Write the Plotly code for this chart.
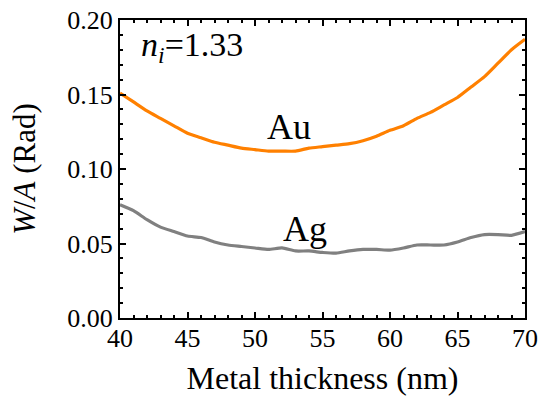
import plotly.graph_objects as go

thickness = list(range(40, 71))
au_wa = [0.151, 0.145, 0.139, 0.134, 0.129, 0.124, 0.121, 0.118, 0.116, 0.114,
         0.113, 0.112, 0.112, 0.112, 0.114, 0.115, 0.116, 0.117, 0.119, 0.122,
         0.126, 0.129, 0.134, 0.138, 0.143, 0.148, 0.155, 0.162, 0.171, 0.180, 0.187]
ag_wa = [0.076, 0.072, 0.066, 0.061, 0.058, 0.055, 0.054, 0.051, 0.049, 0.048,
         0.047, 0.046, 0.047, 0.045, 0.045, 0.044, 0.0435, 0.045, 0.046, 0.046,
         0.0455, 0.047, 0.049, 0.049, 0.049, 0.051, 0.054, 0.056, 0.056, 0.0555, 0.058]

FONT = "Liberation Serif"

fig = go.Figure()
fig.add_trace(go.Scatter(x=thickness, y=au_wa, mode="lines",
                         line=dict(color="#ff8000", width=3.2, shape="spline", smoothing=0.6),
                         showlegend=False))
fig.add_trace(go.Scatter(x=thickness, y=ag_wa, mode="lines",
                         line=dict(color="#808080", width=3.2, shape="spline", smoothing=0.6),
                         showlegend=False))

fig.add_annotation(x=52.5, y=0.128, text="Au", showarrow=False, xref="x", yref="y",
                   font=dict(family=FONT, size=36, color="black"))
fig.add_annotation(x=53.7, y=0.060, text="Ag", showarrow=False, xref="x", yref="y",
                   font=dict(family=FONT, size=36, color="black"))
fig.add_annotation(x=45.3, y=0.182, text="<i>n</i><sub><i>i</i></sub>=1.33", showarrow=False,
                   xref="x", yref="y", font=dict(family=FONT, size=34, color="black"))

axis_common = dict(showgrid=False, zeroline=False, showline=True, linecolor="black",
                   linewidth=2, mirror="ticks", ticks="inside", ticklen=6, tickwidth=2,
                   tickcolor="black", automargin=False, ticklabeloverflow="allow",
                   tickfont=dict(family=FONT, size=26, color="black"))

fig.update_xaxes(range=[40, 70], tick0=40, dtick=5, ticklabelstandoff=-4,
                 minor=dict(ticks="inside", dtick=1, ticklen=3, tickwidth=1.5, tickcolor="black"),
                 title=dict(text="Metal thickness (nm)", font=dict(family=FONT, size=32, color="black"),
                            standoff=14),
                 **axis_common)
fig.update_yaxes(range=[0, 0.2], tick0=0, dtick=0.05, tickformat=".2f",
                 minor=dict(ticks="inside", dtick=0.01, ticklen=3, tickwidth=1.5, tickcolor="black"),
                 title=dict(text="<i>W</i>/<i>A</i> (Rad)", font=dict(family=FONT, size=31, color="black"),
                            standoff=22),
                 **axis_common)

fig.update_layout(width=539, height=401, margin=dict(l=120, r=14, t=20, b=83),
                  font=dict(family=FONT, color="black"),
                  plot_bgcolor="white", paper_bgcolor="white")

fig.write_html("out.html", config={"displayModeBar": False},
               post_script="document.body.style.margin='0';document.body.style.overflow='hidden';")
